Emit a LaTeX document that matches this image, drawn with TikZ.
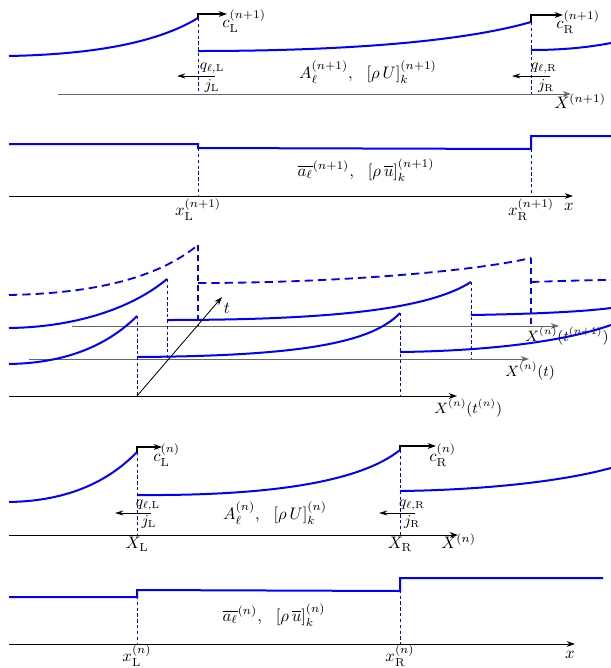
\documentclass[tikz,border=0pt]{standalone}
\usetikzlibrary{arrows.meta}
\begin{document}
\begin{tikzpicture}[x=0.6pt,y=-0.6pt,
  curve/.style={blue, line width=1.2pt},
  jump/.style={blue, line width=0.6pt, dash pattern=on 2pt off 1.5pt},
  ghost/.style={blue, line width=1.1pt, dash pattern=on 5pt off 3pt},
  ghostjump/.style={blue, line width=0.7pt, dash pattern=on 3.5pt off 2.5pt},
  axis/.style={line width=0.6pt, -{Stealth[length=5pt,width=3.5pt]}},
  grayaxis/.style={axis, black!60},
  speed/.style={line width=0.8pt, -{Stealth[length=5pt,width=3.5pt]}},
  flux/.style={line width=0.6pt, -{Stealth[length=5pt,width=3pt]}},
  lbl/.style={inner sep=0pt},
  small/.style={font=\small, inner sep=1pt}]
\useasboundingbox (0,0) rectangle (611,668);

% ---------- panel 1 ----------
\coordinate (p1Ltop) at (198,18);
\coordinate (p1Lbot) at (198,94);
\coordinate (p1Rtop) at (531,22);
\coordinate (p1Rbot) at (531,94);
\coordinate (p1a0) at (58,94);
\coordinate (p1a1) at (571,94);
\draw[curve] (9,56) .. controls (110,54) and (165,38) .. (p1Ltop);
\draw[curve] (198,51) .. controls (350,51) and (465,41) .. (p1Rtop);
\draw[curve] (531,50) .. controls (570,50) and (595,46) .. (611,43);
\draw[jump] (p1Ltop) -- (p1Lbot);
\draw[jump] (p1Rtop) -- (p1Rbot);
\draw[grayaxis] (p1a0) -- (p1a1);
\node[lbl, anchor=north west] (X1) at (554,93) {$X^{(n+1)}$};
\coordinate (p1cL) at (227,14);
\coordinate (p1cR) at (563,15);
\draw[speed] (p1Ltop) -- (198,14) -- (p1cL);
\node[lbl, anchor=west] (cL1) at (222,21) {$c_{\mathrm{L}}^{(n+1)}$};
\draw[speed] (p1Rtop) -- (531,15) -- (p1cR);
\node[lbl, anchor=west] (cR1) at (556,22) {$c_{\mathrm{R}}^{(n+1)}$};
\coordinate (p1fL0) at (215,76); \coordinate (p1fL1) at (177,76);
\coordinate (p1fR0) at (550,76); \coordinate (p1fR1) at (512,76);
\draw[flux] (p1fL0) -- (p1fL1);
\draw[flux] (p1fR0) -- (p1fR1);
\node[small] (qL1) at (212,68) {$q_{\ell,\mathrm{L}}$};
\node[small] (jL1) at (212,86) {$j_{\mathrm{L}}$};
\node[small] (qR1) at (544,68) {$q_{\ell,\mathrm{R}}$};
\node[small] (jR1) at (546,86) {$j_{\mathrm{R}}$};
\node (A1) at (368,72) {$A_\ell^{(n+1)},\ \ [\rho\,U]_k^{(n+1)}$};

% ---------- panel 2 ----------
\coordinate (p2L) at (198,148);
\coordinate (p2R) at (531,149);
\coordinate (p2Lb) at (198,196);
\coordinate (p2Rb) at (531,196);
\draw[curve] (9,144) -- (198,144) -- (p2L) -- (p2R) -- (531,136) -- (611,136);
\draw[jump] (p2L) -- (p2Lb);
\draw[jump] (p2R) -- (p2Rb);
\coordinate (p2a0) at (9,196); \coordinate (p2a1) at (573,196);
\draw[axis] (p2a0) -- (p2a1);
\node[lbl, anchor=north] (xL2) at (198,198) {$x_{\mathrm{L}}^{(n+1)}$};
\node[lbl, anchor=north] (xR2) at (531,198) {$x_{\mathrm{R}}^{(n+1)}$};
\node (x2) at (569,207) {$x$};
\node (a2) at (366,170) {$\overline{a_\ell}^{(n+1)},\ \ [\rho\,\overline{u}]_k^{(n+1)}$};

% ---------- panel 3 ----------
% axes
\coordinate (a3t0) at (72,326); \coordinate (a3t1) at (559,326);
\coordinate (a3m0) at (29,359); \coordinate (a3m1) at (529,359);
\coordinate (a3b0) at (9,396);  \coordinate (a3b1) at (457,396);
\draw[grayaxis] (a3t0) -- (a3t1);
\draw[grayaxis] (a3m0) -- (a3m1);
\draw[axis] (a3b0) -- (a3b1);
\node[lbl, anchor=north west, font=\small] (Xt1) at (525,327) {$X^{(n)}(t^{(n+1)})$};
\node[lbl, anchor=north west, font=\small] (Xt) at (505,362) {$X^{(n)}(t)$};
\node[lbl, anchor=north west, font=\small] (Xt0) at (434,399) {$X^{(n)}(t^{(n)})$};
% dashed (future) profile
\coordinate (g1) at (198,245); \coordinate (g1b) at (198,326);
\coordinate (g2) at (531,258); \coordinate (g2b) at (531,327);
\draw[ghost] (9,295) .. controls (110,293) and (165,272) .. (g1);
\draw[ghost] (198,283) .. controls (330,283) and (470,272) .. (g2);
\draw[ghost] (531,282) .. controls (560,281) and (590,280) .. (611,280);
\draw[ghostjump] (g1) -- (g1b);
\draw[ghostjump] (g2) -- (g2b);
% intermediate profile
\coordinate (m1) at (167,279); \coordinate (m1b) at (167,359);
\coordinate (m2) at (471,282); \coordinate (m2b) at (471,359);
\draw[curve] (9,328) .. controls (80,327) and (135,306) .. (m1);
\draw[curve] (167,320) .. controls (340,320) and (430,308) .. (m2);
\draw[curve] (471,315) .. controls (530,314) and (580,312) .. (611,308);
\draw[jump] (m1) -- (m1b);
\draw[jump] (m2) -- (m2b);
% initial profile
\coordinate (b1) at (137,316); \coordinate (b1b) at (137,396);
\coordinate (b2) at (400,313); \coordinate (b2b) at (400,396);
\draw[curve] (9,364) .. controls (70,363) and (110,343) .. (b1);
\draw[curve] (137,357) .. controls (290,356) and (370,345) .. (b2);
\draw[curve] (400,352) .. controls (480,351) and (560,343) .. (611,325);
\draw[jump] (b1) -- (b1b);
\draw[jump] (b2) -- (b2b);
% time axis
\coordinate (t1) at (222,297);
\draw[line width=0.5pt, -{Stealth[length=5pt,width=3.5pt]}] (b1b) -- (t1);
\node (tl) at (227,308) {$t$};

% ---------- panel 4 ----------
\coordinate (p4Ltop) at (137,452); \coordinate (p4Lbot) at (137,535);
\coordinate (p4Rtop) at (400,450); \coordinate (p4Rbot) at (400,535);
\draw[curve] (9,502) .. controls (70,501) and (110,480) .. (p4Ltop);
\draw[curve] (137,495) .. controls (270,496) and (360,482) .. (p4Rtop);
\draw[curve] (400,491) .. controls (480,490) and (560,482) .. (611,468);
\draw[jump] (p4Ltop) -- (p4Lbot);
\draw[jump] (p4Rtop) -- (p4Rbot);
\coordinate (p4a0) at (9,535); \coordinate (p4a1) at (458,535);
\draw[axis] (p4a0) -- (p4a1);
\node[lbl, anchor=north west] (X4) at (441,533) {$X^{(n)}$};
\node[lbl, anchor=north] (XL4) at (137,537) {$X_{\mathrm{L}}$};
\node[lbl, anchor=north] (XR4) at (400,537) {$X_{\mathrm{R}}$};
\coordinate (p4cL) at (162,447); \coordinate (p4cR) at (436,446);
\draw[speed] (p4Ltop) -- (137,447) -- (p4cL);
\node[lbl, anchor=west] (cL4) at (153,455) {$c_{\mathrm{L}}^{(n)}$};
\draw[speed] (p4Rtop) -- (400,446) -- (p4cR);
\node[lbl, anchor=west] (cR4) at (429,455) {$c_{\mathrm{R}}^{(n)}$};
\coordinate (p4fL0) at (151,513); \coordinate (p4fL1) at (115,513);
\coordinate (p4fR0) at (415,513); \coordinate (p4fR1) at (379,513);
\draw[flux] (p4fL0) -- (p4fL1);
\draw[flux] (p4fR0) -- (p4fR1);
\node[small] (qL4) at (148,505) {$q_{\ell,\mathrm{L}}$};
\node[small] (jL4) at (149,522) {$j_{\mathrm{L}}$};
\node[small] (qR4) at (412,505) {$q_{\ell,\mathrm{R}}$};
\node[small] (jR4) at (412,522) {$j_{\mathrm{R}}$};
\node (A4) at (275,513) {$A_\ell^{(n)},\ \ [\rho\,U]_k^{(n)}$};

% ---------- panel 5 ----------
\coordinate (p5L) at (137,590); \coordinate (p5Lb) at (137,644);
\coordinate (p5R) at (400,578); \coordinate (p5Rb) at (400,644);
\draw[curve] (9,597) -- (137,597) -- (p5L) -- (400,591) -- (p5R) -- (603,578);
\draw[jump] (p5L) -- (p5Lb);
\draw[jump] (p5R) -- (p5Rb);
\coordinate (p5a0) at (9,644); \coordinate (p5a1) at (575,644);
\draw[axis] (p5a0) -- (p5a1);
\node[lbl, anchor=north] (xL5) at (137,644) {$x_{\mathrm{L}}^{(n)}$};
\node[lbl, anchor=north] (xR5) at (400,644) {$x_{\mathrm{R}}^{(n)}$};
\node (x5) at (570,655) {$x$};
\node (a5) at (274,615) {$\overline{a_\ell}^{(n)},\ \ [\rho\,\overline{u}]_k^{(n)}$};
\end{tikzpicture}
\end{document}
